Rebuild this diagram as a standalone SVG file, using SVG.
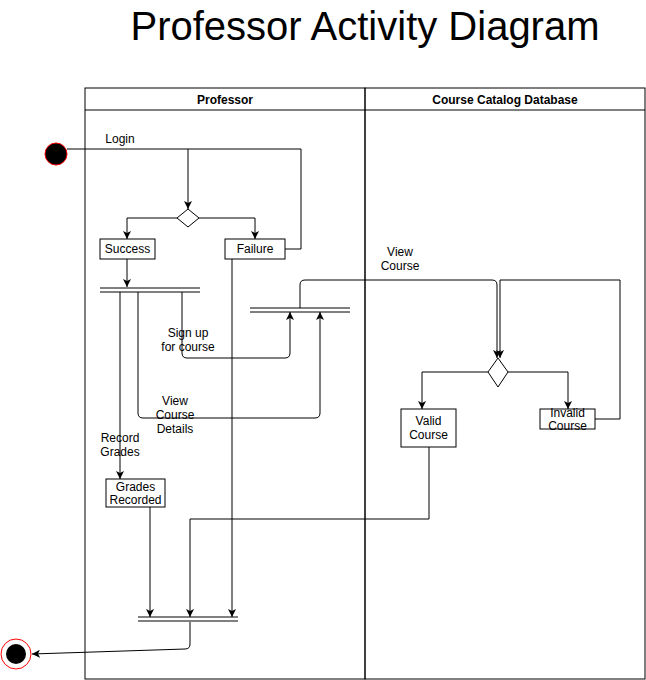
<svg xmlns="http://www.w3.org/2000/svg" width="646" height="680" viewBox="0 0 646 680">
<style>
text{font-family:"Liberation Sans",Arial,sans-serif;fill:#000}
.lbl{font-size:12px;text-anchor:middle}
.hdr{font-size:12px;font-weight:bold;text-anchor:middle}
.box{fill:#fff;stroke:#000;stroke-width:1}
.bar{stroke:#000;stroke-width:1;fill:none}
.edge{fill:none;stroke:#000;stroke-width:1}
.arr{marker-end:url(#ah)}
</style>
<defs>
<marker id="ah" viewBox="0 0 10 10" refX="10" refY="5" markerWidth="8" markerHeight="8" markerUnits="userSpaceOnUse" orient="auto">
<path d="M0,0 L10,5 L0,10 L2.5,5 z" fill="#000"/>
</marker>
</defs>
<rect width="646" height="680" fill="#fff"/>
<text x="365" y="40" style="font-size:40px;text-anchor:middle">Professor Activity Diagram</text>

<g id="lanes">
<rect x="85" y="88" width="280" height="591" fill="none" stroke="#000"/>
<rect x="365" y="88" width="280" height="591" fill="none" stroke="#000"/>
<line x1="85" y1="110" x2="645" y2="110" stroke="#000"/>
<text class="hdr" x="225" y="104">Professor</text>
<text class="hdr" x="505" y="104">Course Catalog Database</text>
</g>

<g id="connectors">
<path class="edge" d="M67,149 H301 V249 H285"/>
<path class="edge arr" d="M188,149 V209"/>
<path class="edge arr" d="M177,218 H127 V239"/>
<path class="edge arr" d="M199,218 H255 V239"/>
<path class="edge arr" d="M127,259 V287"/>
<path class="edge arr" d="M120,292 V479"/>
<path class="edge arr" d="M138,292 V413 Q138,418 143,418 H315 Q320,418 320,413 V312"/>
<path class="edge arr" d="M182,292 V353 Q182,358 187,358 H285 Q290,358 290,353 V312"/>
<path class="edge arr" d="M300,308 V285 Q300,280 305,280 H492 Q497,280 497,285 V358"/>
<path class="edge arr" d="M595,419 H620 V280 H500 V358"/>
<path class="edge arr" d="M488,372 H422 V409"/>
<path class="edge arr" d="M508,372 H568 V409"/>
<path class="edge arr" d="M429,447 V519 H190 V617"/>
<path class="edge arr" d="M150,507 V617"/>
<path class="edge arr" d="M232,259 V617"/>
<path class="edge arr" d="M190,622 V644 Q190,649 185,649 L32,654"/>
<text class="lbl" x="120" y="143">Login</text>
<text class="lbl" x="188" y="337">Sign up</text>
<text class="lbl" x="188" y="351">for course</text>
<text class="lbl" x="175" y="405">View</text>
<text class="lbl" x="175" y="419">Course</text>
<text class="lbl" x="175" y="433">Details</text>
<text class="lbl" x="120" y="442">Record</text>
<text class="lbl" x="120" y="456">Grades</text>
<text class="lbl" x="400" y="256">View</text>
<text class="lbl" x="400" y="270">Course</text>
</g>

<g id="start">
<circle cx="56" cy="154" r="11" fill="#000" stroke="#ff0000" stroke-width="1"/>
</g>
<g id="end">
<circle cx="16" cy="654" r="15" fill="#fff" stroke="#ff0000" stroke-width="1"/>
<circle cx="16" cy="654" r="10" fill="#000"/>
</g>
<g id="decision1">
<path class="box" d="M188,209 L199,218 L188,227 L177,218 z"/>
</g>
<g id="success">
<rect class="box" x="100" y="239" width="55" height="20"/>
<text class="lbl" x="127.5" y="253">Success</text>
</g>
<g id="failure">
<rect class="box" x="225" y="239" width="60" height="20"/>
<text class="lbl" x="255" y="253">Failure</text>
</g>
<g id="fork1">
<line class="bar" x1="100" y1="288" x2="200" y2="288"/>
<line class="bar" x1="100" y1="292" x2="200" y2="292"/>
</g>
<g id="fork2">
<line class="bar" x1="250" y1="308" x2="350" y2="308"/>
<line class="bar" x1="250" y1="312" x2="350" y2="312"/>
</g>
<g id="decision2">
<path class="box" d="M498,358 L508,372 L498,387 L488,372 z"/>
</g>
<g id="valid">
<rect class="box" x="401" y="409" width="55" height="38"/>
<text class="lbl" x="428.5" y="425">Valid</text>
<text class="lbl" x="428.5" y="439">Course</text>
</g>
<g id="invalid">
<rect class="box" x="540" y="409" width="55" height="20"/>
<text class="lbl" x="567.5" y="417">Invalid</text>
<text class="lbl" x="567.5" y="430">Course</text>
</g>
<g id="grades">
<rect class="box" x="106" y="479" width="59" height="28"/>
<text class="lbl" x="135.5" y="491">Grades</text>
<text class="lbl" x="135.5" y="504">Recorded</text>
</g>
<g id="join">
<line class="bar" x1="138" y1="617" x2="238" y2="617"/>
<line class="bar" x1="138" y1="621" x2="238" y2="621"/>
</g>
</svg>
